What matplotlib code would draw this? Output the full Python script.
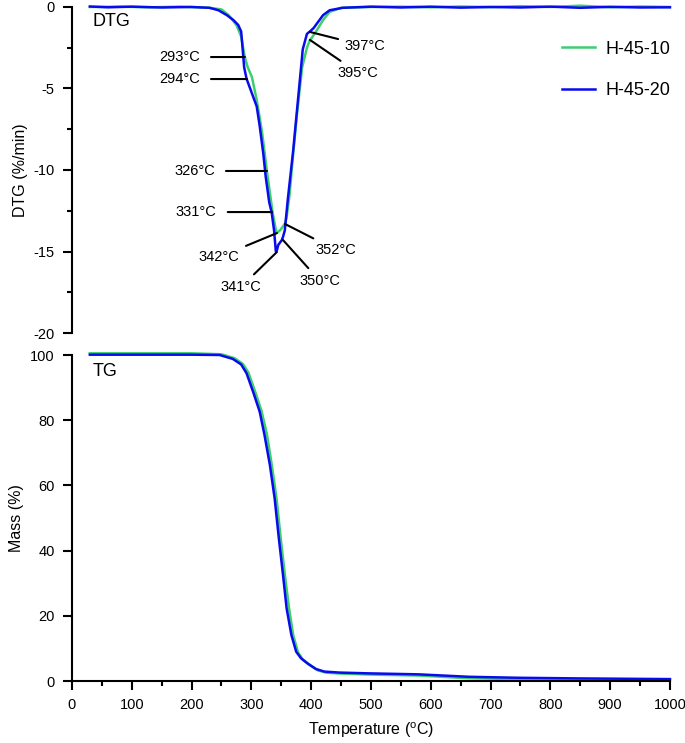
import matplotlib
matplotlib.use("Agg")
import matplotlib.pyplot as plt
from matplotlib.ticker import MultipleLocator

plt.rcParams['font.family'] = ['Liberation Sans', 'DejaVu Sans']
plt.rcParams['mathtext.fontset'] = 'custom'
plt.rcParams['mathtext.rm'] = 'Liberation Sans'
plt.rcParams['axes.unicode_minus'] = False

# DTG, H-45-10 (verde)
dtg10_T = [30, 80, 130, 180, 230, 250, 262, 275, 283, 289, 294, 301, 309, 318, 326, 331,
           336, 342, 348, 356, 359, 364, 368, 376, 385, 393, 398, 401, 410, 420, 431, 450,
           500, 550, 600, 650, 700, 750, 800, 850, 900, 950, 1000]
dtg10_y = [0.0, 0.02, -0.02, 0.02, -0.05, -0.15, -0.5, -1.1, -1.8, -3.07, -3.7, -4.3, -5.7,
           -7.7, -10.06, -11.4, -12.7, -13.87, -13.7, -13.31, -12.9, -11.5, -9.8, -6.7, -3.7,
           -2.5, -2.02, -1.9, -1.4, -0.8, -0.3, -0.05, 0.0, 0.02, -0.02, 0.03, -0.01, 0.05,
           0.0, 0.08, -0.02, 0.03, 0.0]

# DTG, H-45-20 (azul)
dtg20_T = [30, 60, 100, 150, 200, 230, 245, 259, 270, 278, 283, 286, 288, 292, 299, 309,
           314, 320, 324, 330, 334, 338, 341, 343, 345, 351, 353, 356, 361, 370, 378, 386,
           393, 398, 404, 410, 420, 431, 453, 500, 550, 600, 650, 700, 750, 800, 850, 900,
           950, 1000]
dtg20_y = [0.03, -0.02, 0.02, -0.03, 0.0, -0.05, -0.2, -0.5, -0.8, -1.1, -1.5, -2.8, -3.7,
           -4.4, -5.1, -6.1, -7.3, -9.0, -10.4, -12.0, -12.6, -13.7, -15.0, -14.9, -14.6,
           -14.3, -14.1, -13.7, -11.8, -8.8, -5.7, -2.6, -1.65, -1.5, -1.3, -1.0, -0.5, -0.2,
           -0.05, 0.02, -0.03, 0.02, -0.04, 0.0, -0.03, 0.02, -0.05, 0.01, -0.03, -0.02]

# TG
tg10_T = [30, 100, 200, 250, 272, 286, 295, 306, 317, 326, 334, 342, 349, 356, 363, 370,
          378, 386, 397, 411, 425, 450, 500, 580, 660, 750, 850, 1000]
tg10_m = [100.5, 100.5, 100.5, 100.2, 99.0, 97.2, 94.6, 88.9, 82.8, 75.6, 66.4, 56.0, 43.8,
          32.5, 22.3, 14.0, 8.8, 6.6, 5.0, 3.3, 2.6, 2.3, 2.0, 1.7, 0.9, 0.6, 0.5, 0.4]
tg20_T = [30, 100, 200, 247, 269, 283, 292, 303, 314, 322, 331, 339, 346, 353, 359, 367,
          375, 383, 394, 408, 422, 447, 497, 580, 664, 747, 850, 1000]
tg20_m = [100.1, 100.1, 100.1, 100.0, 98.8, 97.1, 94.4, 88.7, 82.6, 75.5, 66.3, 56.0, 43.8,
          32.5, 22.3, 14.1, 9.0, 7.0, 5.4, 3.7, 2.9, 2.6, 2.35, 2.05, 1.3, 1.0, 0.8, 0.6]

# etiquetas de picos: texto, punto (T, y), posición del texto (T, y), ha, va
anotaciones = [
    ("293°C", (289.3, -3.07), (214.0, -3.07), 'right', 'center'),
    ("294°C", (292.6, -4.42), (214.0, -4.42), 'right', 'center'),
    ("326°C", (326.1, -10.06), (239.0, -10.06), 'right', 'center'),
    ("331°C", (334.4, -12.58), (242.0, -12.58), 'right', 'center'),
    ("342°C", (342.8, -13.87), (280.0, -15.34), 'right', 'center'),
    ("341°C", (342.8, -15.03), (282.6, -16.75), 'center', 'top'),
    ("350°C", (352.8, -14.29), (414.7, -16.38), 'center', 'top'),
    ("352°C", (356.2, -13.31), (408.0, -14.91), 'left', 'center'),
    ("397°C", (398.0, -1.53), (456.5, -2.39), 'left', 'center'),
    ("395°C", (398.0, -2.02), (444.8, -3.62), 'left', 'top'),
]

verde = '#3ccf6e'
azul = '#0a0aef'

fig = plt.figure(figsize=(6.85, 7.43), dpi=100)
ax1 = fig.add_axes([0.105, 0.5518, 0.873, 0.4388])
ax2 = fig.add_axes([0.105, 0.0834, 0.873, 0.4388])

ax1.plot(dtg10_T, dtg10_y, color=verde, lw=1.8, label='H-45-10', clip_on=False)
ax1.plot(dtg20_T, dtg20_y, color=azul, lw=1.8, label='H-45-20', clip_on=False)
ax2.plot(tg10_T, tg10_m, color=verde, lw=1.9, clip_on=False)
ax2.plot(tg20_T, tg20_m, color=azul, lw=1.8, clip_on=False)

for txt, xy, xyt, ha, va in anotaciones:
    sa = 6 if ha == 'right' and va == 'center' and xyt[1] == xy[1] else 3
    ax1.annotate(txt, xy=xy, xytext=xyt, ha=ha, va=va, fontsize=10.5,
                 arrowprops=dict(arrowstyle='-', color='black', lw=1.5,
                                 shrinkA=sa, shrinkB=0))

for ax in (ax1, ax2):
    ax.set_xlim(0, 1000)
    for s in ('top', 'right'):
        ax.spines[s].set_visible(False)
    for s in ('left', 'bottom'):
        ax.spines[s].set_linewidth(1.5)
    ax.tick_params(axis='y', which='major', length=6.5, width=1.5, labelsize=10.5, pad=6)
    ax.tick_params(axis='y', which='minor', length=3.6, width=1.5)

ax1.set_ylim(-20, 0)
ax1.yaxis.set_major_locator(MultipleLocator(5))
ax1.yaxis.set_minor_locator(MultipleLocator(2.5))
ax1.spines['bottom'].set_visible(False)
ax1.set_xticks([])
ax1.set_ylabel('DTG (%/min)', fontsize=11.5, labelpad=4)
ax1.text(0.035, 0.954, 'DTG', transform=ax1.transAxes, fontsize=13, va='center')
ax1.legend(loc='upper right', bbox_to_anchor=(1.0, 0.897), frameon=False, fontsize=13,
           handlelength=1.85, handletextpad=0.55, labelspacing=1.35, borderaxespad=0,
           borderpad=0)

ax2.set_ylim(0, 100)
ax2.yaxis.set_major_locator(MultipleLocator(20))
ax2.xaxis.set_major_locator(MultipleLocator(100))
ax2.xaxis.set_minor_locator(MultipleLocator(50))
ax2.tick_params(axis='x', which='major', length=6.5, width=1.5, labelsize=10.5, pad=6)
ax2.tick_params(axis='x', which='minor', length=3.6, width=1.5)
for lab in ax2.get_xticklabels():
    lab.set_family(['Liberation Sans Narrow', 'Liberation Sans'])
ax2.set_ylabel('Mass (%)', fontsize=11.5, labelpad=4)
ax2.set_xlabel('Temperature ($\\mathregular{^{o}}$C)', fontsize=11.5, labelpad=6)
ax2.text(0.035, 0.948, 'TG', transform=ax2.transAxes, fontsize=13, va='center')

fig.savefig('out.png', dpi=100)
